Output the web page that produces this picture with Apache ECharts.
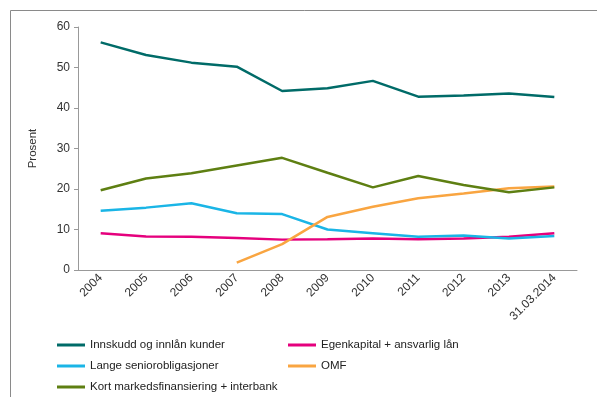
<!DOCTYPE html>
<html>
<head>
<meta charset="utf-8">
<script src="https://cdn.jsdelivr.net/npm/echarts@6/dist/echarts.min.js"></script>
<style>
  html, body { margin: 0; padding: 0; background: #fff; }
  #main { width: 597px; height: 397px; }
</style>
</head>
<body>
<div id="main"></div>
<script>
const years = ['2004', '2005', '2006', '2007', '2008', '2009', '2010', '2011', '2012', '2013', '31.03.2014'];
const innskudd = [56.2, 53.1, 51.2, 50.2, 44.2, 44.9, 46.7, 42.8, 43.1, 43.6, 42.7];
const egenkapital = [9.1, 8.3, 8.2, 7.9, 7.5, 7.6, 7.8, 7.6, 7.8, 8.2, 9.1];
const lange = [14.6, 15.4, 16.5, 14.0, 13.8, 10.0, 9.1, 8.2, 8.5, 7.8, 8.4];
const omf = ['-', '-', '-', 1.8, 6.4, 13.1, 15.6, 17.7, 18.9, 20.2, 20.6];
const kort = [19.7, 22.6, 23.9, 25.8, 27.7, 24.0, 20.4, 23.2, 21.0, 19.2, 20.4];

const names = ['Innskudd og innlån kunder', 'Egenkapital + ansvarlig lån', 'Lange seniorobligasjoner', 'OMF', 'Kort markedsfinansiering + interbank'];
const colors = ['#006B68', '#E5007D', '#1AB5E6', '#F9A541', '#5E7F12'];
const values = [innskudd, egenkapital, lange, omf, kort];

// legend slots: [left, top] per series
const legendPos = [[57, 339], [288, 339], [57, 360], [288, 360], [57, 381]];

const chart = echarts.init(document.getElementById('main'));

chart.setOption({
  animation: false,
  graphic: [{
    type: 'rect',
    shape: { x: 10.5, y: 10.5, width: 620, height: 420 },
    style: { fill: 'none', stroke: '#8a8a8a', lineWidth: 1 }
  }],
  grid: { left: 78, right: 20, top: 27, bottom: 127 },
  legend: names.map((n, i) => ({
    left: legendPos[i][0],
    top: legendPos[i][1],
    padding: 0,
    data: [n],
    itemWidth: 28,
    itemHeight: 3,
    icon: 'rect',
    textStyle: { fontFamily: 'Liberation Sans', fontSize: 11.5, color: '#222' }
  })),
  xAxis: {
    type: 'category',
    data: years,
    axisLine: { lineStyle: { color: '#999' } },
    axisTick: { interval: 3, length: 4, lineStyle: { color: '#999' } },
    axisLabel: {
      rotate: 45, interval: 0, fontFamily: 'Liberation Sans', fontSize: 12, color: '#333', margin: 6
    }
  },
  yAxis: {
    type: 'value',
    min: 0, max: 60, interval: 10,
    name: 'Prosent',
    nameLocation: 'middle',
    nameGap: 39,
    nameTextStyle: { fontFamily: 'Liberation Sans', fontSize: 11.5, color: '#333' },
    axisLine: { show: true, lineStyle: { color: '#999' } },
    axisTick: { show: true, length: 4, lineStyle: { color: '#999' } },
    splitLine: { show: false },
    axisLabel: { fontFamily: 'Liberation Sans', fontSize: 12, color: '#333', margin: 8 }
  },
  series: names.map((n, i) => ({
    name: n,
    type: 'line',
    data: values[i],
    showSymbol: false,
    symbol: 'none',
    color: colors[i],
    lineStyle: { width: 2.5, color: colors[i] }
  }))
});
</script>
</body>
</html>
